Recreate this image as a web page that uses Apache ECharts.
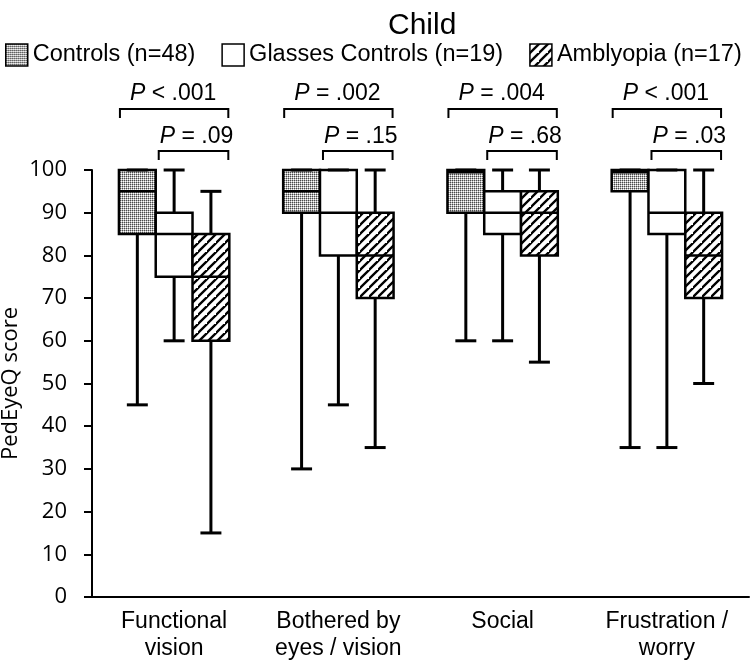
<!DOCTYPE html>
<html>
<head>
<meta charset="utf-8">
<script src="https://cdn.jsdelivr.net/npm/echarts@6/dist/echarts.min.js"></script>
<style>
html,body{margin:0;padding:0;background:#fff;}
#main{width:750px;height:660px;}
</style>
</head>
<body>
<div id="main"></div>
<script>
// ---- Data ----
const categories = ['Functional\nvision', 'Bothered by\neyes / vision', 'Social', 'Frustration /\nworry'];
const seriesNames = ['Controls (n=48)', 'Glasses Controls (n=19)', 'Amblyopia (n=17)'];
// [min, Q1, median, Q3, max]
const controls  = [[45, 85, 95, 100, 100], [30, 90, 95, 100, 100], [60, 90, 99.5, 100, 100], [35, 95, 99.5, 100, 100]];
const glasses   = [[60, 75, 85, 90, 100], [45, 80, 90, 100, 100], [60, 85, 90, 95, 100], [35, 85, 90, 100, 100]];
const amblyopia = [[15, 60, 75, 85, 95], [35, 70, 80, 90, 100], [55, 80, 90, 95, 100], [50, 70, 80, 90, 100]];
const pOverall = ['< .001', '= .002', '= .004', '< .001'];
const pPair    = ['= .09', '= .15', '= .68', '= .03'];
const yMin = 0, yMax = 100, yInterval = 10;

// ---- Patterns ----
function stipple() {
  const c = document.createElement('canvas');
  c.width = 4; c.height = 4;
  const ctx = c.getContext('2d');
  for (let i = 0; i < 4; i++) {
    for (let j = 0; j < 4; j++) {
      let col;
      if (i % 2 === 0 && j % 2 === 0) col = '#4a4a4a';
      else if ((i + j) % 2 === 1) col = '#b4b4b4';
      else col = '#ffffff';
      ctx.fillStyle = col;
      ctx.fillRect(i, j, 1, 1);
    }
  }
  return { image: c, repeat: 'repeat' };
}
function hatch() {
  const s = 9;
  const c = document.createElement('canvas');
  c.width = s; c.height = s;
  const ctx = c.getContext('2d');
  ctx.fillStyle = '#fff';
  ctx.fillRect(0, 0, s, s);
  ctx.strokeStyle = '#000';
  ctx.lineWidth = 2.3;
  ctx.beginPath();
  ctx.moveTo(-1, s + 1); ctx.lineTo(s + 1, -1);
  ctx.moveTo(-s - 1, s + 1); ctx.lineTo(1, -1);
  ctx.moveTo(s - 1, 2 * s + 1); ctx.lineTo(2 * s + 1, s - 1);
  ctx.stroke();
  return { image: c, repeat: 'repeat' };
}
const fills = [stipple(), '#ffffff', hatch()];
const groups = [controls, glasses, amblyopia];

function boxRender(s) {
  return function (params, api) {
    const cat = api.value(0);
    const vMin = api.value(1), q1 = api.value(2), med = api.value(3), q3 = api.value(4), vMax = api.value(5);
    const c = api.coord([cat, 0])[0];
    const band = api.size([1, 0])[0];
    const w = band * 0.224;
    const left = c + (s - 1.5) * w;
    const mid = left + w / 2;
    const y = v => api.coord([cat, v])[1];
    const capHalf = w * 0.285;
    const k = '#000';
    return {
      type: 'group',
      children: [
        { type: 'line', shape: { x1: mid, y1: y(q3), x2: mid, y2: y(vMax) }, style: { stroke: k, lineWidth: 3 } },
        { type: 'line', shape: { x1: mid, y1: y(q1), x2: mid, y2: y(vMin) }, style: { stroke: k, lineWidth: 3 } },
        { type: 'rect', shape: { x: left, y: y(q3), width: w, height: y(q1) - y(q3) },
          style: { fill: fills[s], stroke: k, lineWidth: 2.5 } },
        { type: 'line', shape: { x1: left, y1: y(med), x2: left + w, y2: y(med) }, style: { stroke: k, lineWidth: 2.5 } },
        { type: 'line', shape: { x1: mid - capHalf, y1: y(vMax), x2: mid + capHalf, y2: y(vMax) }, style: { stroke: k, lineWidth: 3 } },
        { type: 'line', shape: { x1: mid - capHalf, y1: y(vMin), x2: mid + capHalf, y2: y(vMin) }, style: { stroke: k, lineWidth: 3 } }
      ]
    };
  };
}

function bracketRender(params, api) {
  const cat = api.value(0);
  const i = params.dataIndex;
  const c = api.coord([cat, 0])[0];
  const band = api.size([1, 0])[0];
  const w = band * 0.224;
  const top = api.coord([cat, yMax])[1];
  const l1 = c - 1.5 * w + 1, r1 = c + 1.5 * w - 1;
  const l2 = c - 0.5 * w + 3, r2 = r1;
  const yA = top - 61, yB = top - 19;
  const font = 'Liberation Sans';
  const ls = { stroke: '#000', lineWidth: 2, fill: null };
  const rich = { i: { fontStyle: 'italic', fontSize: 23, fontFamily: font, fill: '#000' } };
  return {
    type: 'group',
    children: [
      { type: 'polyline', shape: { points: [[l1, yA + 9], [l1, yA], [r1, yA], [r1, yA + 9]] }, style: ls },
      { type: 'polyline', shape: { points: [[l2, yB + 9], [l2, yB], [r2, yB], [r2, yB + 9]] }, style: ls },
      { type: 'text', style: { text: '{i|P} ' + pOverall[i], x: (l1 + r1) / 2 - 1, y: yA - 15, align: 'center', verticalAlign: 'middle',
          fontSize: 23, fontFamily: font, fill: '#000', rich: rich } },
      { type: 'text', style: { text: '{i|P} ' + pPair[i], x: (l2 + r2) / 2 + 3, y: yB - 14, align: 'center', verticalAlign: 'middle',
          fontSize: 23, fontFamily: font, fill: '#000', rich: rich } }
    ]
  };
}

const series = groups.map((g, s) => ({
  name: seriesNames[s],
  type: 'custom',
  renderItem: boxRender(s),
  itemStyle: { color: fills[s], borderColor: '#000', borderWidth: 1.5 },
  encode: { x: 0, y: [1, 2, 3, 4, 5] },
  data: g.map((d, i) => [i].concat(d)),
  clip: false,
  z: 2
}));
series.push({
  name: 'p',
  type: 'custom',
  renderItem: bracketRender,
  encode: { x: 0, y: 1 },
  data: categories.map((_, i) => [i, yMax]),
  clip: false,
  silent: true,
  z: 3
});

const chart = echarts.init(document.getElementById('main'), null, { renderer: 'canvas' });
chart.setOption({
  animation: false,
  backgroundColor: '#fff',
  title: {
    text: 'Child', left: 383, top: 6,
    textStyle: { fontFamily: 'Liberation Sans', fontSize: 30, fontWeight: 'normal', color: '#000' }
  },
  legend: {
    data: seriesNames, left: 0, top: 38, width: 750, padding: [5, 0, 5, 5],
    icon: 'rect', itemWidth: 22, itemHeight: 22, itemGap: 26,
    textStyle: { fontFamily: 'Liberation Sans', fontSize: 23.5, color: '#000' },
    itemStyle: { borderColor: '#000', borderWidth: 1.5 }
  },
  grid: { left: 92, right: 1, top: 170, bottom: 63, containLabel: false, outerBoundsMode: 'none' },
  xAxis: {
    type: 'category', data: categories, boundaryGap: true,
    axisLine: { show: true, lineStyle: { color: '#000', width: 2 } },
    axisTick: { show: false },
    axisLabel: { interval: 0, color: '#000', fontFamily: 'Liberation Sans', fontSize: 23, lineHeight: 27, margin: 11 }
  },
  yAxis: {
    type: 'value', min: yMin, max: yMax, interval: yInterval,
    name: 'PedEyeQ score', nameLocation: 'middle', nameRotate: 90, nameGap: 70, nameMoveOverlap: false,
    nameTextStyle: { fontFamily: 'Open Sans', fontSize: 22, color: '#000' },
    axisLine: { show: true, lineStyle: { color: '#000', width: 2 } },
    axisTick: { show: true, length: 8, lineStyle: { color: '#000', width: 2 } },
    axisLabel: { color: '#000', fontFamily: 'Open Sans', fontSize: 22, margin: 25 },
    splitLine: { show: false }
  },
  series: series
});
</script>
</body>
</html>
